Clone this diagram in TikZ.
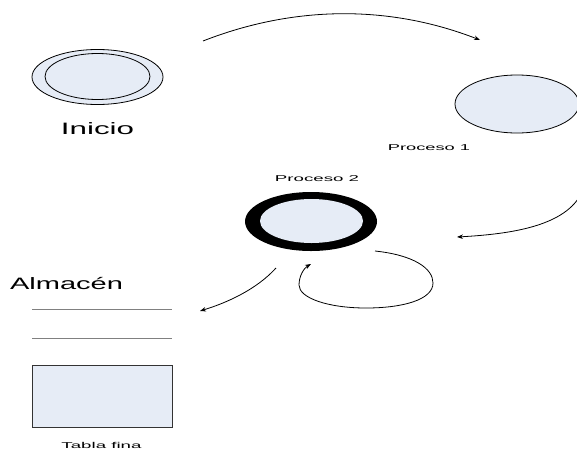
\documentclass[tikz,border=0pt]{standalone}
\usepackage{fontspec}
\setmainfont{Liberation Sans}
\usetikzlibrary{shapes.geometric,arrows.meta}
\definecolor{procfill}{RGB}{230,236,246}
\definecolor{storeline}{RGB}{128,128,128}
\tikzset{
  blob/.style={ellipse, draw=black, fill=procfill, line width=0.8pt, inner sep=0pt},
  biglabel/.style={font=\fontsize{16.5}{18}\selectfont, inner sep=0pt},
  smalllabel/.style={font=\fontsize{8.5}{10}\selectfont, inner sep=0pt},
  flow/.style={line width=0.8pt, -{Stealth[length=6pt,width=4.5pt]}},
}
\begin{document}
\begin{tikzpicture}[x=1pt,y=-1pt]
\useasboundingbox (0,0) rectangle (577,450);

% start state: double ellipse
\node[blob, minimum width=131pt, minimum height=55pt] (inicioOut) at (97.5,77) {};
\node[blob, minimum width=105pt, minimum height=46pt] (inicioIn) at (97.5,76.5) {};
\node[biglabel, xscale=1.9] (inicioLbl) at (97.5,129) {Inicio};

% process 1
\node[blob, minimum width=124pt, minimum height=58pt] (p1) at (517,104) {};
\node[smalllabel, xscale=2.15] (p1Lbl) at (429,148) {Proceso 1};

% process 2: thick ring
\node[ellipse, fill=black, inner sep=0pt, minimum width=132pt, minimum height=59pt] (p2Out) at (311,221.5) {};
\node[ellipse, fill=procfill, inner sep=0pt, minimum width=103pt, minimum height=44pt] (p2) at (311.5,221) {};
\node[smalllabel, xscale=2.2] (p2Lbl) at (317,179) {Proceso 2};

% data store
\node[biglabel, xscale=1.76] (storeLbl) at (66.5,283) {Almacén};
\coordinate (s1a) at (32,309);  \coordinate (s1b) at (172,309);
\coordinate (s2a) at (32,338);  \coordinate (s2b) at (172,338);
\draw[storeline, line width=1pt] (s1a) -- (s1b);
\draw[storeline, line width=1pt] (s2a) -- (s2b);
\node[draw=black!80, fill=procfill, line width=0.8pt, minimum width=140pt, minimum height=62pt, inner sep=0pt] (tabla) at (102,396) {};
\node[smalllabel, xscale=2.2] (tablaLbl) at (101.5,445) {Tabla fina};

% connectors
\coordinate (a1s) at (203,41);  \coordinate (a1e) at (480,40);
\draw[flow] (a1s) .. controls (295,5) and (390,5) .. (a1e);

\coordinate (a2s) at (580,196); \coordinate (a2e) at (457,237);
\draw[flow] (a2s) .. controls (562,226) and (512,234) .. (a2e);

\coordinate (a3s) at (276,268); \coordinate (a3e) at (200,311);
\draw[flow] (a3s) .. controls (256,290) and (226,303) .. (a3e);

\coordinate (l0) at (375,251); \coordinate (l1) at (433,283);
\coordinate (l2) at (366,308); \coordinate (l3) at (299,285);
\coordinate (l4) at (311,264);
\draw[flow] (l0) .. controls (413,255) and (433,268) .. (l1)
  .. controls (433,300) and (402,308) .. (l2)
  .. controls (328,308) and (299,298) .. (l3)
  .. controls (299,276) and (304,268) .. (l4);
\end{tikzpicture}
\end{document}
